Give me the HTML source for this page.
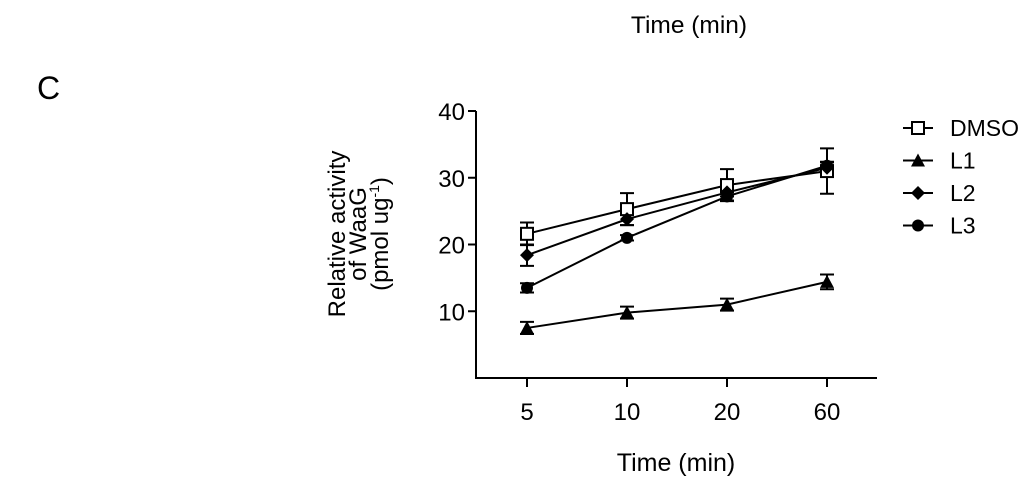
<!DOCTYPE html>
<html><head><meta charset="utf-8"><style>
body{margin:0;background:#fff;}
svg{display:block;font-family:"Liberation Sans",sans-serif;}
</style></head><body>
<svg id="c" width="1024" height="483">
<text x="689" y="33" font-size="24.5" text-anchor="middle">Time (min)</text>
<text x="37" y="99" font-size="32">C</text>
<text x="676" y="471" font-size="25" text-anchor="middle">Time (min)</text>
<g transform="translate(366,234) rotate(-90)">
<text x="0" y="-21" font-size="24" text-anchor="middle">Relative activity</text>
<text x="0" y="0" font-size="24" text-anchor="middle">of WaaG</text>
<text x="0" y="22" font-size="24" text-anchor="middle">(pmol ug<tspan font-size="14" dy="-9">-1</tspan><tspan dy="9">)</tspan></text>
</g>
<g id="plot"></g>
</svg>
<script>
const categories=["5","10","20","60"];
const yTicks=[10,20,30,40];
const seriesNames=["DMSO","L1","L2","L3"];
const dmso=[21.6,25.3,28.9,31.0];
const dmsoErr=[1.7,2.4,2.4,3.4];
const l1=[7.5,9.8,11.0,14.4];
const l1Err=[0.9,0.9,0.9,1.1];
const l2=[18.4,23.8,27.8,31.5];
const l2Err=[1.6,0.9,0.6,0.8];
const l3=[13.5,21.0,27.2,31.8];
const l3Err=[0.7,0.4,0.6,0.6];
const NS="http://www.w3.org/2000/svg";
const g=document.getElementById('plot');
const x0=476,yBase=378,pxPer=6.675;
const xs=i=>527+i*100;
const ys=v=>yBase-v*pxPer;
function mk(t,a){const e=document.createElementNS(NS,t);for(const k in a)e.setAttribute(k,a[k]);g.appendChild(e);return e;}
let e=mk('line',{x1:x0,y1:ys(40),x2:x0,y2:yBase,stroke:'#000','stroke-width':2});


e=mk('line',{x1:x0-1,y1:yBase,x2:877,y2:yBase,stroke:'#000','stroke-width':2});


yTicks.forEach(v=>{
 e=mk('line',{x1:x0-8,y1:ys(v),x2:x0,y2:ys(v),stroke:'#000','stroke-width':2});
 
 
 e=mk('text',{x:x0-11,y:ys(v)+9,'font-size':24,'text-anchor':'end'});e.textContent=v;
 
 
});
categories.forEach((c,i)=>{
 e=mk('line',{x1:xs(i),y1:yBase,x2:xs(i),y2:yBase+9,stroke:'#000','stroke-width':2});
 
 
 e=mk('text',{x:xs(i),y:420,'font-size':24,'text-anchor':'middle'});e.textContent=c;
 
 
});
function marker(type,cx,cy,name){
 let m;
 if(type==='sq')m=mk('rect',{x:cx-6,y:cy-6,width:12,height:12,fill:'#fff',stroke:'#000','stroke-width':2});
 else if(type==='tri')m=mk('polygon',{points:`${cx},${cy-7} ${cx+7},${cy+6} ${cx-7},${cy+6}`,fill:'#000'});
 else if(type==='dia')m=mk('polygon',{points:`${cx},${cy-7} ${cx+7},${cy} ${cx},${cy+7} ${cx-7},${cy}`,fill:'#000'});
 else m=mk('circle',{cx:cx,cy:cy,r:6,fill:'#000'});
 
 
}
const all=[[dmso,dmsoErr,'sq'],[l1,l1Err,'tri'],[l2,l2Err,'dia'],[l3,l3Err,'dot']];
all.forEach(([vals,errs,t],si)=>{
 const nm=seriesNames[si].toLowerCase();
 vals.forEach((v,i)=>{
  const cx=xs(i),t1=ys(v+errs[i]),b1=ys(v-errs[i]);
  e=mk('path',{d:`M${cx},${t1}V${b1}M${cx-7},${t1}h14M${cx-7},${b1}h14`,stroke:'#000','stroke-width':2,fill:'none'});
  
  
 });
 e=mk('polyline',{points:vals.map((v,i)=>xs(i)+','+ys(v)).join(' '),fill:'none',stroke:'#000','stroke-width':2});
 
 
});
all.forEach(([vals,errs,t],si)=>{
 const nm=seriesNames[si].toLowerCase();
 vals.forEach((v,i)=>marker(t,xs(i),ys(v),nm+'-point'));
 const ly=128+si*32.5;
 e=mk('line',{x1:903,y1:ly,x2:933,y2:ly,stroke:'#000','stroke-width':2});
 
 
 marker(t,918,ly,'legend-marker');
 e=mk('text',{x:950,y:ly+8,'font-size':23});e.textContent=seriesNames[si];
 
 
});
</script>
</body></html>
